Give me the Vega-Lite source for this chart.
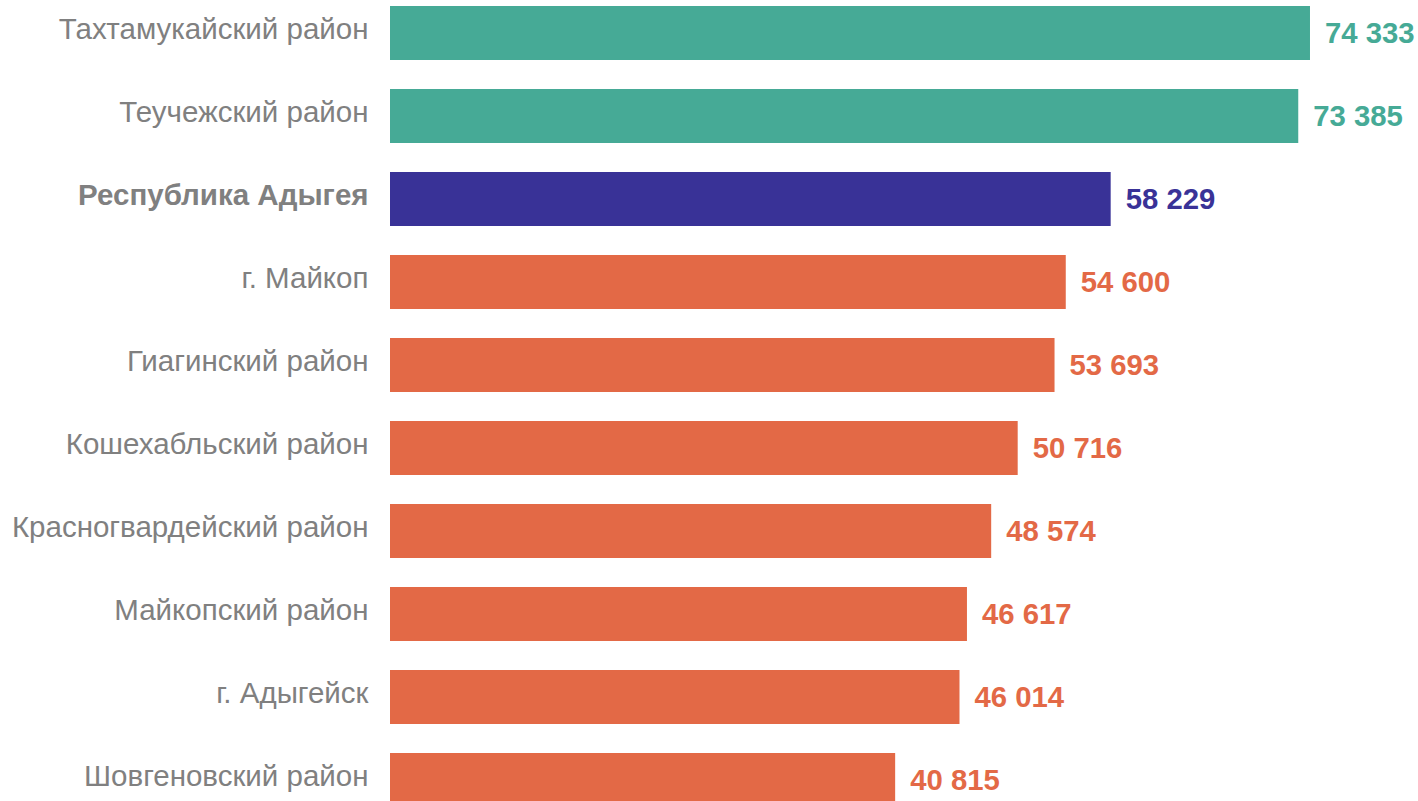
{
  "$schema": "https://vega.github.io/schema/vega-lite/v6.json",
  "width": 1028,
  "height": 801,
  "autosize": "none",
  "padding": {"left": 390, "top": 6, "right": 0, "bottom": 0},
  "background": "white",
  "config": {"view": {"stroke": null}},
  "data": {
    "values": [
      {"name": "Тахтамукайский район", "value": 74333, "group": "top"},
      {"name": "Теучежский район", "value": 73385, "group": "top"},
      {"name": "Республика Адыгея", "value": 58229, "group": "region"},
      {"name": "г. Майкоп", "value": 54600, "group": "low"},
      {"name": "Гиагинский район", "value": 53693, "group": "low"},
      {"name": "Кошехабльский район", "value": 50716, "group": "low"},
      {"name": "Красногвардейский район", "value": 48574, "group": "low"},
      {"name": "Майкопский район", "value": 46617, "group": "low"},
      {"name": "г. Адыгейск", "value": 46014, "group": "low"},
      {"name": "Шовгеновский район", "value": 40815, "group": "low"}
    ]
  },
  "transform": [
    {"calculate": "replace(format(datum.value, ',d'), ',', ' ')", "as": "label"}
  ],
  "encoding": {
    "y": {
      "field": "name",
      "type": "nominal",
      "sort": null,
      "scale": {"paddingInner": 0.35, "paddingOuter": 0},
      "axis": {
        "title": null,
        "domain": false,
        "ticks": false,
        "labelPadding": 22,
        "labelOffset": -3,
        "labelFont": "Liberation Sans",
        "labelFontSize": 29.5,
        "labelColor": "#808080",
        "labelLimit": 400,
        "labelFontWeight": {"condition": {"test": "datum.value == 'Республика Адыгея'", "value": "bold"}, "value": "normal"}
      }
    },
    "x": {
      "field": "value",
      "type": "quantitative",
      "scale": {"domain": [0, 83060], "nice": false},
      "axis": null
    },
    "color": {
      "field": "group",
      "type": "nominal",
      "scale": {"domain": ["top", "region", "low"], "range": ["#46AA96", "#393297", "#E36946"]},
      "legend": null
    }
  },
  "layer": [
    {"mark": {"type": "bar"}},
    {
      "mark": {"type": "text", "align": "left", "baseline": "middle", "dx": 15, "dy": 1, "font": "Liberation Sans", "fontSize": 29.3, "fontWeight": "bold"},
      "encoding": {"text": {"field": "label"}}
    }
  ]
}
